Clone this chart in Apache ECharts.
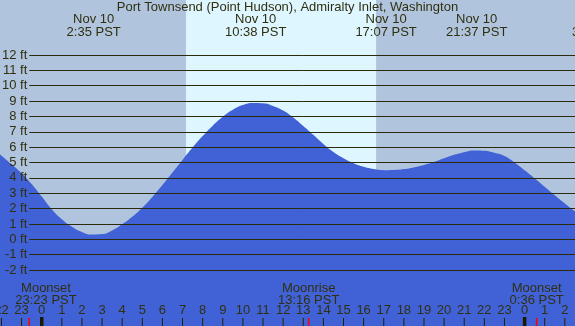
<!DOCTYPE html>
<html>
<head>
<meta charset="utf-8">
<script src="https://cdn.jsdelivr.net/npm/echarts@6/dist/echarts.min.js"></script>
<style>
html, body { margin: 0; padding: 0; background: #b0c4de; }
#chart { width: 575px; height: 326px; }
</style>
</head>
<body>
<div id="chart"></div>
<script>
// hours from midnight Nov 10 (PST) and tide height in ft
const tideHours = [-2.5, -2, -1.5, -1, -0.5, 0, 0.5, 1, 1.5, 2, 2.5, 3, 3.5, 4, 4.5, 5, 5.5, 6, 6.5, 7, 7.5, 8, 8.5, 9, 9.5, 10, 10.5, 11, 11.5, 12, 12.5, 13, 13.5, 14, 14.5, 15, 15.5, 16, 16.5, 17, 17.5, 18, 18.5, 19, 19.5, 20, 20.5, 21, 21.5, 22, 22.5, 23, 23.5, 24, 24.5, 25, 25.5, 26, 26.5, 27];
const tideFeet = [5.92, 5.44, 4.88, 4.3, 3.6, 2.78, 1.95, 1.3, 0.82, 0.48, 0.31, 0.34, 0.58, 0.98, 1.47, 2.06, 2.76, 3.53, 4.35, 5.17, 5.97, 6.72, 7.4, 7.98, 8.43, 8.74, 8.88, 8.86, 8.68, 8.38, 7.93, 7.38, 6.8, 6.2, 5.68, 5.27, 4.95, 4.72, 4.57, 4.5, 4.51, 4.57, 4.68, 4.84, 5.03, 5.27, 5.5, 5.67, 5.78, 5.76, 5.63, 5.42, 5.0, 4.5, 3.98, 3.42, 2.86, 2.33, 1.83, 1.36];

const heightTicks = [-2, -1, 0, 1, 2, 3, 4, 5, 6, 7, 8, 9, 10, 11, 12];
const hourTicks = [-2, -1, 0, 1, 2, 3, 4, 5, 6, 7, 8, 9, 10, 11, 12, 13, 14, 15, 16, 17, 18, 19, 20, 21, 22, 23, 24, 25, 26];

// sunrise / sunset
const sunrise = 7.17;
const sunset = 16.62;

const tideEventHours = [2.583, 10.633, 17.117, 21.617, 27.7];
const tideEventLabels = ['Nov 10\n2:35 PST', 'Nov 10\n10:38 PST', 'Nov 10\n17:07 PST', 'Nov 10\n21:37 PST', 'Nov 11\n3:42 PST'];

const moonHours = [-0.617, 13.267, 24.6];
const moonLabels = ['Moonset\n23:23 PST', 'Moonrise\n13:16 PST', 'Moonset\n0:36 PST'];

const midnightHours = [0, 24];

// plot scale: midnight at x=41.7, 20.12 px per hour; 0 ft at y=239.3, 15.36 px per ft
const W = 575, H = 326;
const X0 = 41.7, PXH = 20.12, Y0 = 239.3, PXF = 15.36;

const TEXT = '#303010';
const TICK = '#202000';
const FAM = '"Liberation Sans", Arial, sans-serif';
const FONT = '13px ' + FAM;

var myChart = echarts.init(document.getElementById('chart'));

var option = {
    animation: false,
    backgroundColor: '#b0c4de',
    title: {
        text: 'Port Townsend (Point Hudson), Admiralty Inlet, Washington',
        left: 'center',
        top: 1,
        padding: 0,
        textStyle: { color: TEXT, fontSize: 13, fontWeight: 'normal', fontFamily: FAM }
    },
    grid: [
        { left: 0, right: 0, top: 0, bottom: 0, outerBoundsMode: 'none' },
        { left: 29.3, right: 0, top: 0, bottom: 0, outerBoundsMode: 'none' }
    ],
    xAxis: [
        { type: 'value', gridIndex: 0, min: -X0 / PXH, max: (W - X0) / PXH, show: false },
        { type: 'value', gridIndex: 1, min: 0, max: 1, show: false }
    ],
    yAxis: [
        { type: 'value', gridIndex: 0, min: (Y0 - H) / PXF, max: Y0 / PXF, show: false },
        { type: 'value', gridIndex: 1, min: (Y0 - H) / PXF, max: Y0 / PXF, show: false }
    ],
    series: [
        {
            // daylight band
            type: 'line',
            data: [],
            z: 1,
            markArea: {
                silent: true,
                itemStyle: { color: '#ddf6ff' },
                data: [[{ xAxis: sunrise }, { xAxis: sunset }]]
            }
        },
        {
            name: 'tide',
            type: 'line',
            z: 2,
            smooth: true,
            symbol: 'none',
            lineStyle: { width: 0 },
            areaStyle: { color: '#4162d6', opacity: 1, origin: 'start' },
            data: tideHours.map((h, i) => [h, tideFeet[i]])
        },
        {
            // height gridlines with ft labels
            type: 'line',
            xAxisIndex: 1,
            yAxisIndex: 1,
            data: [],
            z: 3,
            markLine: {
                silent: true,
                symbol: ['none', 'none'],
                lineStyle: { color: '#2b2b0b', width: 1, type: 'solid' },
                label: {
                    position: 'start',
                    distance: 2,
                    color: TEXT,
                    fontSize: 13,
                    fontFamily: FAM,
                    formatter: function (p) { return p.value + ' ft'; }
                },
                data: heightTicks.map(v => ({ yAxis: v }))
            }
        },
        {
            // high / low tide times along the top
            type: 'custom',
            z: 4,
            data: tideEventHours.map(h => [h, 0]),
            renderItem: function (params, api) {
                const x = api.coord([api.value(0), 0])[0];
                return {
                    type: 'text',
                    x: x,
                    y: 13,
                    style: {
                        text: tideEventLabels[params.dataIndex],
                        align: 'center',
                        verticalAlign: 'top',
                        fill: TEXT,
                        font: FONT,
                        lineHeight: 13
                    }
                };
            }
        },
        {
            // hour labels and ticks along the bottom
            type: 'custom',
            z: 4,
            data: hourTicks.map(h => [h, 0]),
            renderItem: function (params, api) {
                const h = api.value(0);
                const x = api.coord([h, 0])[0];
                return {
                    type: 'group',
                    children: [
                        {
                            type: 'text',
                            x: x,
                            y: 310.5,
                            style: {
                                text: String(((h % 24) + 24) % 24),
                                align: 'center',
                                verticalAlign: 'middle',
                                fill: TEXT,
                                font: FONT
                            }
                        },
                        {
                            type: 'line',
                            shape: { x1: x, y1: 318, x2: x, y2: 326 },
                            style: { stroke: TICK, lineWidth: 1 }
                        }
                    ]
                };
            }
        },
        {
            // moon events along the bottom
            type: 'custom',
            z: 5,
            data: moonHours.map(h => [h, 0]),
            renderItem: function (params, api) {
                const tx = api.coord([api.value(0), 0])[0];
                // keep the first label clear of the left edge
                const x = Math.max(tx, 46);
                return {
                    type: 'group',
                    children: [
                        {
                            type: 'text',
                            x: x,
                            y: 282,
                            style: {
                                text: moonLabels[params.dataIndex],
                                align: 'center',
                                verticalAlign: 'top',
                                fill: TEXT,
                                font: FONT,
                                lineHeight: 12
                            }
                        },
                        {
                            type: 'line',
                            shape: { x1: tx, y1: 318, x2: tx, y2: 326 },
                            style: { stroke: '#ff0000', lineWidth: 1.5 }
                        }
                    ]
                };
            }
        },
        {
            // midnight marks
            type: 'custom',
            z: 5,
            data: midnightHours.map(h => [h, 0]),
            renderItem: function (params, api) {
                const x = api.coord([api.value(0), 0])[0];
                return {
                    type: 'rect',
                    shape: { x: x - 1.7, y: 317, width: 3.5, height: 9 },
                    style: { fill: '#1a1a00' }
                };
            }
        }
    ]
};

myChart.setOption(option);
</script>
</body>
</html>
